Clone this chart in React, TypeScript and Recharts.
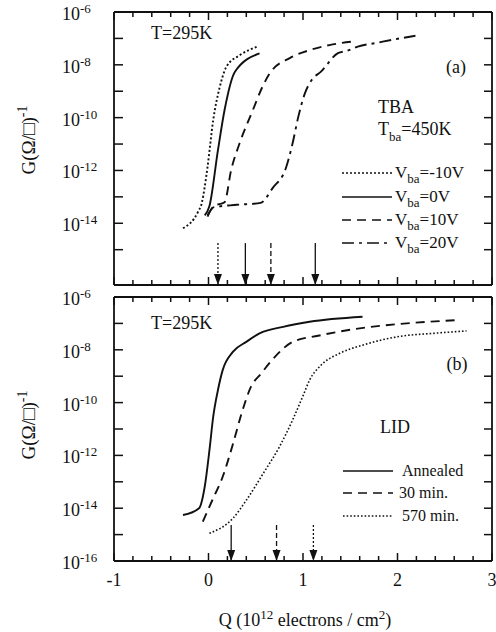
import React from 'react';
import { LineChart, Line, XAxis, YAxis } from 'recharts';

const FONT = '"Liberation Serif", "Times New Roman", "DejaVu Serif", serif';
const INK = '#111111';

// ---------- Panel (a): TBA, T_ba = 450K ----------
const qVbaM10 = [-0.27, -0.11, -0.07, -0.04, -0.01, 0.05, 0.12, 0.19, 0.33, 0.52];
const gVbaM10 = [6.5e-15, 2.75e-14, 6.0e-14, 2.4e-13, 1.38e-12, 8.1e-11, 1.48e-9, 8.5e-9, 2.3e-8, 4.9e-8];

const qVba0 = [-0.04, 0.01, 0.10, 0.17, 0.28, 0.54];
const gVba0 = [2.0e-14, 4.5e-14, 5.9e-12, 1.95e-10, 5.5e-9, 2.7e-8];

const qVba10 = [-0.01, 0.06, 0.17, 0.24, 0.33, 0.47, 0.57, 0.65, 0.86, 1.07, 1.28, 1.56];
const gVba10 = [2.0e-14, 4.5e-14, 6.3e-14, 1.05e-12, 1.1e-11, 1.95e-10, 1.45e-9, 4.9e-9, 1.8e-8, 3.6e-8, 5.6e-8, 7.9e-8];

const qVba20 = [-0.01, 0.05, 0.30, 0.55, 0.68, 0.82, 0.89, 0.95, 1.02, 1.09, 1.19, 1.37, 1.47, 1.58, 1.79, 1.99, 2.19];
const gVba20 = [1.8e-14, 4.0e-14, 5.0e-14, 5.9e-14, 2.2e-13, 1.26e-12, 1.07e-11, 1.07e-10, 8.3e-10, 2.6e-9, 5.5e-9, 2.75e-8, 3.4e-8, 4.9e-8, 6.9e-8, 9.5e-8, 1.26e-7];

const topArrowQ = [0.10, 0.39, 0.66, 1.13];
const topArrowStyle = ['dot', 'solid', 'dash', 'solid'];
const topArrowTopG = 1.78e-15;

// ---------- Panel (b): LID ----------
const qAnnealed = [-0.27, -0.10, -0.04, 0.01, 0.05, 0.10, 0.15, 0.26, 0.40, 0.54, 0.79, 1.07, 1.63];
const gAnnealed = [5.5e-15, 1.0e-14, 6.5e-14, 1.58e-12, 2.95e-11, 3.0e-10, 1.7e-9, 8.5e-9, 2.0e-8, 4.2e-8, 7.4e-8, 1.15e-7, 1.78e-7];

const q30min = [-0.06, 0.04, 0.15, 0.26, 0.35, 0.45, 0.56, 0.72, 0.89, 1.16, 1.60, 2.02, 2.66];
const g30min = [3.1e-15, 2.0e-14, 1.55e-13, 2.8e-12, 3.9e-11, 4.0e-10, 1.3e-9, 6.3e-9, 2.0e-8, 3.4e-8, 6.5e-8, 9.5e-8, 1.35e-7];

const q570min = [0.01, 0.26, 0.40, 0.58, 0.75, 0.89, 1.00, 1.07, 1.19, 1.39, 1.63, 2.02, 2.38, 2.73];
const g570min = [1.12e-15, 4.2e-15, 2.0e-14, 2.1e-13, 2.1e-12, 2.2e-11, 1.8e-10, 7.2e-10, 2.6e-9, 7.4e-9, 1.5e-8, 3.2e-8, 4.2e-8, 5.2e-8];

const botArrowQ = [0.24, 0.72, 1.11];
const botArrowStyle = ['solid', 'dash', 'dot'];
const botArrowTopG = 2.3e-15;

// ---------- axes ----------
const xDomain = [-1, 3];
const xMajorTicks = [-1, 0, 1, 2, 3];
const xMinorTicks = [-0.8, -0.6, -0.4, -0.2, 0.2, 0.4, 0.6, 0.8, 1.2, 1.4, 1.6, 1.8, 2.2, 2.4, 2.6, 2.8];
const topYTicks = [1e-6, 1e-7, 1e-8, 1e-9, 1e-10, 1e-11, 1e-12, 1e-13, 1e-14, 1e-15];
const botYTicks = [1e-6, 1e-7, 1e-8, 1e-9, 1e-10, 1e-11, 1e-12, 1e-13, 1e-14, 1e-15, 1e-16];
const topYDomain = [4.6e-17, 1e-6];
const botYDomain = [1e-16, 1e-6];

// plot frames (page pixels) shared by the charts and the tick overlay
const PLOT_LEFT = 114;
const PLOT_RIGHT = 492;
const TOP_FRAME = { top: 12, bottom: 285, svgTop: 0, svgHeight: 300 };
const BOT_FRAME = { top: 297, bottom: 561, svgTop: 276, svgHeight: 356 };

const pts = (q: number[], g: number[]) => q.map((v, i) => ({ q: v, g: g[i] }));

const DASH: Record<string, string | undefined> = {
  dot: '2 2.2',
  fineDot: '1.6 2',
  dash: '9 6',
  dashDot: '12 5 3 5',
  arrowDash: '5 3',
  arrowDot: '2 2',
};

const AXIS_LINE = { stroke: INK, strokeWidth: 1.8 };

const BottomLabel = (p: any, show: boolean) => {
  if (!show) return <g />;
  return (
    <text x={p.x} y={p.y + 25} textAnchor="middle" fontFamily={FONT} fontSize={18} fill={INK}>
      {String(Math.round(p.payload.value))}
    </text>
  );
};

const LeftLabel = (p: any) => {
  const e = Math.round(Math.log10(p.payload.value));
  if (e % 2 !== 0) return <g />;
  return (
    <text x={62} y={p.y + 8} fontFamily={FONT} fontSize={18} fill={INK}>
      10
      <tspan dy={-7} fontSize={13}>{String(e)}</tspan>
    </text>
  );
};

const Empty = () => <g />;

const arrowHead = (p: any) =>
  p.index === 1 ? (
    <path key={`h${p.index}`} d={`M${p.cx - 4},${p.cy - 11}L${p.cx + 4},${p.cy - 11}L${p.cx},${p.cy}Z`} fill={INK} />
  ) : (
    <g key={`h${p.index}`} />
  );

type Pt = { q: number; g: number };
type Series = { name: string; data: Pt[]; dash?: string; w: number };
type Frame = { top: number; bottom: number; svgTop: number; svgHeight: number };

function Panel(props: {
  frame: Frame;
  yDomain: number[];
  yTicks: number[];
  series: Series[];
  arrowQ: number[];
  arrowStyle: string[];
  arrowTopG: number;
  showXLabels: boolean;
}) {
  const { frame, yDomain, yTicks, series, arrowQ, arrowStyle, arrowTopG, showXLabels } = props;
  const [yMin] = yDomain;
  const mTop = frame.top - frame.svgTop - 1;
  const mBottom = frame.svgTop + frame.svgHeight - frame.bottom - 1;
  const xCommon = {
    type: 'number' as const,
    dataKey: 'q',
    domain: xDomain,
    ticks: xMajorTicks,
    interval: 0 as const,
    height: 1,
    tickSize: 0,
    tickMargin: 0,
    tickLine: false,
    axisLine: AXIS_LINE,
    allowDataOverflow: true,
  };
  const yCommon = {
    type: 'number' as const,
    scale: 'log' as const,
    domain: yDomain,
    ticks: yTicks,
    interval: 0 as const,
    width: 1,
    tickSize: 0,
    tickMargin: 0,
    tickLine: false,
    axisLine: AXIS_LINE,
    allowDataOverflow: true,
  };

  return (
    <LineChart
      width={496}
      height={frame.svgHeight}
      margin={{ top: mTop, right: 496 - PLOT_RIGHT - 1, bottom: mBottom, left: PLOT_LEFT - 1 }}
    >
      <XAxis {...xCommon} xAxisId="b" orientation="bottom" tick={(p: any) => BottomLabel(p, showXLabels)} />
      <XAxis {...xCommon} xAxisId="t" orientation="top" tick={Empty} />
      <YAxis {...yCommon} yAxisId="l" orientation="left" tick={LeftLabel} />
      <YAxis {...yCommon} yAxisId="r" orientation="right" tick={Empty} />

      {series.map((s) => (
        <Line
          key={s.name}
          xAxisId="b"
          yAxisId="l"
          data={s.data}
          dataKey="g"
          type="monotone"
          stroke={INK}
          strokeWidth={s.w}
          strokeDasharray={s.dash}
          dot={false}
          activeDot={false}
          isAnimationActive={false}
        />
      ))}
      {arrowQ.map((q, i) => (
        <Line
          key={`arrow${i}`}
          xAxisId="b"
          yAxisId="l"
          data={[
            { q, g: arrowTopG },
            { q, g: yMin },
          ]}
          dataKey="g"
          type="linear"
          stroke={INK}
          strokeWidth={1.3}
          strokeDasharray={
            arrowStyle[i] === 'dot' ? DASH.arrowDot : arrowStyle[i] === 'dash' ? DASH.arrowDash : undefined
          }
          dot={arrowHead}
          activeDot={false}
          isAnimationActive={false}
        />
      ))}
      <Line
        xAxisId="t"
        yAxisId="r"
        data={[]}
        dataKey="g"
        stroke="none"
        dot={false}
        activeDot={false}
        isAnimationActive={false}
      />
    </LineChart>
  );
}

// inward tick marks on the four frame sides (same linear / log mapping as the axes)
function FrameTicks(props: { frame: Frame; yDomain: number[]; yTicks: number[] }) {
  const { frame, yDomain, yTicks } = props;
  const [x0, x1] = xDomain;
  const sx = (q: number) => PLOT_LEFT + ((q - x0) / (x1 - x0)) * (PLOT_RIGHT - PLOT_LEFT);
  const l0 = Math.log10(yDomain[0]);
  const l1 = Math.log10(yDomain[1]);
  const sy = (g: number) => frame.bottom - ((Math.log10(g) - l0) / (l1 - l0)) * (frame.bottom - frame.top);
  const segs: JSX.Element[] = [];
  xMajorTicks.forEach((q) => {
    const x = sx(q);
    segs.push(<line key={`bM${q}`} x1={x} x2={x} y1={frame.bottom} y2={frame.bottom - 8} />);
    segs.push(<line key={`tM${q}`} x1={x} x2={x} y1={frame.top} y2={frame.top + 8} />);
  });
  xMinorTicks.forEach((q) => {
    const x = sx(q);
    segs.push(<line key={`bm${q}`} x1={x} x2={x} y1={frame.bottom} y2={frame.bottom - 5} />);
    segs.push(<line key={`tm${q}`} x1={x} x2={x} y1={frame.top} y2={frame.top + 5} />);
  });
  yTicks.forEach((g) => {
    const y = sy(g);
    segs.push(<line key={`l${g}`} x1={PLOT_LEFT} x2={PLOT_LEFT + 9} y1={y} y2={y} />);
    segs.push(<line key={`r${g}`} x1={PLOT_RIGHT} x2={PLOT_RIGHT - 8} y1={y} y2={y} />);
  });
  return (
    <g stroke={INK} strokeWidth={1.5}>
      {segs}
    </g>
  );
}

const topSeries: Series[] = [
  { name: 'Vba=-10V', data: pts(qVbaM10, gVbaM10), dash: DASH.dot, w: 1.9 },
  { name: 'Vba=0V', data: pts(qVba0, gVba0), w: 1.9 },
  { name: 'Vba=10V', data: pts(qVba10, gVba10), dash: DASH.dash, w: 1.9 },
  { name: 'Vba=20V', data: pts(qVba20, gVba20), dash: DASH.dashDot, w: 1.9 },
];

const botSeries: Series[] = [
  { name: 'Annealed', data: pts(qAnnealed, gAnnealed), w: 1.9 },
  { name: '30 min.', data: pts(q30min, g30min), dash: DASH.dash, w: 1.9 },
  { name: '570 min.', data: pts(q570min, g570min), dash: DASH.fineDot, w: 1.6 },
];

const T = (p: { x: number; y: number; size?: number; anchor?: string; children: any }) => (
  <text x={p.x} y={p.y} fontFamily={FONT} fontSize={p.size ?? 18} fill={INK} textAnchor={p.anchor ?? 'start'}>
    {p.children}
  </text>
);

const LegendRow = (p: { y: number; dash?: string; w?: number; x1?: number; x2?: number }) => (
  <line x1={p.x1 ?? 342} x2={p.x2 ?? 392} y1={p.y} y2={p.y} stroke={INK} strokeWidth={p.w ?? 1.6} strokeDasharray={p.dash} />
);

const Vba = (p: { x: number; y: number; v: string }) => (
  <text x={p.x} y={p.y} fontFamily={FONT} fontSize={17} fill={INK}>
    V<tspan dy={5} fontSize={13}>ba</tspan>
    <tspan dy={-5}>{`=${p.v}`}</tspan>
  </text>
);

export default function App() {
  return (
    <div style={{ position: 'absolute', left: 0, top: 0, width: 496, height: 632, background: '#fff', overflow: 'hidden' }}>
      <div style={{ position: 'absolute', left: 0, top: TOP_FRAME.svgTop }}>
        <Panel
          frame={TOP_FRAME}
          yDomain={topYDomain}
          yTicks={topYTicks}
          series={topSeries}
          arrowQ={topArrowQ}
          arrowStyle={topArrowStyle}
          arrowTopG={topArrowTopG}
          showXLabels={false}
        />
      </div>
      <div style={{ position: 'absolute', left: 0, top: BOT_FRAME.svgTop }}>
        <Panel
          frame={BOT_FRAME}
          yDomain={botYDomain}
          yTicks={botYTicks}
          series={botSeries}
          arrowQ={botArrowQ}
          arrowStyle={botArrowStyle}
          arrowTopG={botArrowTopG}
          showXLabels={true}
        />
      </div>
      <svg width={496} height={632} style={{ position: 'absolute', left: 0, top: 0, pointerEvents: 'none' }}>
        <FrameTicks frame={TOP_FRAME} yDomain={topYDomain} yTicks={topYTicks} />
        <FrameTicks frame={BOT_FRAME} yDomain={botYDomain} yTicks={botYTicks} />

        {/* y-axis titles */}
        <text transform="translate(35,140) rotate(-90)" textAnchor="middle" fontFamily={FONT} fontSize={19} fill={INK}>
          G(Ω/□)<tspan dy={-8} fontSize={14}>-1</tspan>
        </text>
        <text transform="translate(35,425) rotate(-90)" textAnchor="middle" fontFamily={FONT} fontSize={19} fill={INK}>
          G(Ω/□)<tspan dy={-8} fontSize={14}>-1</tspan>
        </text>
        {/* x-axis title */}
        <text x={305} y={626} textAnchor="middle" fontFamily={FONT} fontSize={18} fill={INK}>
          Q (10<tspan dy={-7} fontSize={13}>12</tspan>
          <tspan dy={7}> electrons / cm</tspan>
          <tspan dy={-7} fontSize={13}>2</tspan>
          <tspan dy={7}>)</tspan>
        </text>

        {/* panel (a) annotations */}
        <T x={151} y={39}>T=295K</T>
        <T x={456} y={73} anchor="middle">(a)</T>
        <T x={378} y={113}>TBA</T>
        <text x={378} y={135} fontFamily={FONT} fontSize={18} fill={INK}>
          T<tspan dy={6} fontSize={13}>ba</tspan>
          <tspan dy={-6}>=450K</tspan>
        </text>
        <LegendRow y={173} dash="2 2" w={1.4} />
        <Vba x={395} y={178} v="-10V" />
        <LegendRow y={197} />
        <Vba x={395} y={202} v="0V" />
        <LegendRow y={220} dash="9 6" />
        <Vba x={395} y={225} v="10V" />
        <LegendRow y={243} dash="12 5 3 5" />
        <Vba x={395} y={248} v="20V" />

        {/* panel (b) annotations */}
        <T x={151} y={329}>T=295K</T>
        <T x={457} y={370} anchor="middle">(b)</T>
        <T x={380} y={433}>LID</T>
        <LegendRow y={471} x1={343} x2={393} />
        <T x={402} y={476} size={16}>Annealed</T>
        <LegendRow y={493} x1={343} x2={393} dash="9 6" />
        <T x={399} y={498} size={16}>30 min.</T>
        <LegendRow y={516} x1={343} x2={393} dash="1.6 2" w={1.4} />
        <T x={402} y={521} size={16}>570 min.</T>
      </svg>
    </div>
  );
}
